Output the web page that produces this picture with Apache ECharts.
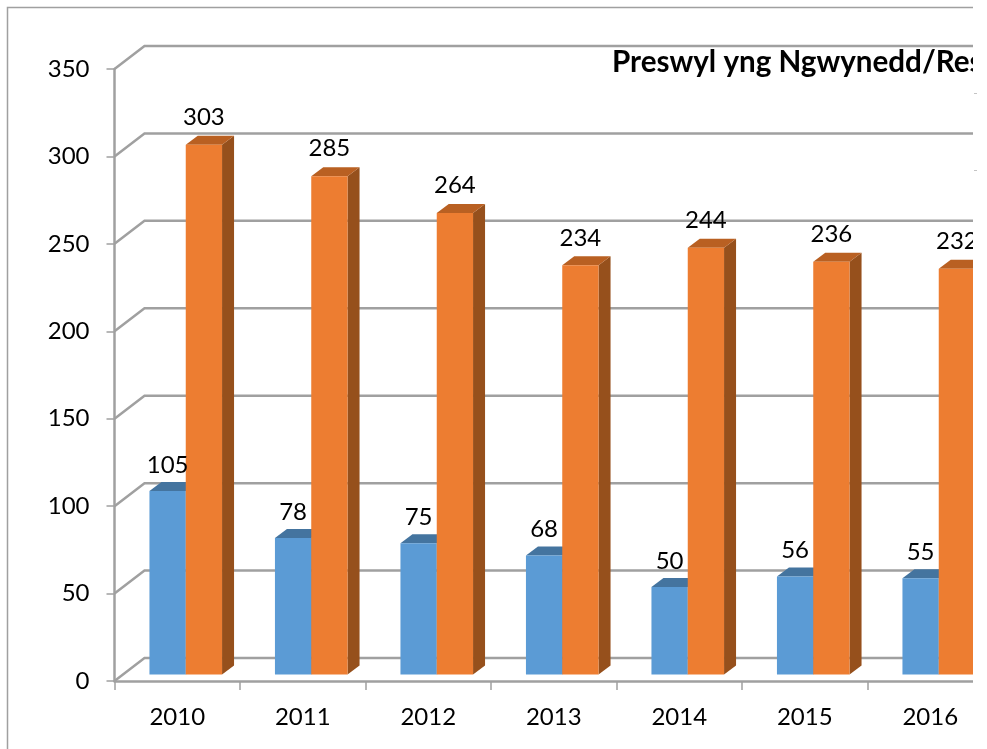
<!DOCTYPE html>
<html>
<head>
<meta charset="utf-8">
<title>Preswyl yng Ngwynedd</title>
<script src="https://cdn.jsdelivr.net/npm/echarts@6/dist/echarts.min.js"></script>
<style>
  html, body { margin: 0; padding: 0; background: #fff; overflow: hidden; }
  #chart { position: absolute; left: 0; top: 0; width: 973px; height: 749px; }
  .mark { position: absolute; left: 974px; width: 3px; height: 1px; background: #c4c4c4; }
</style>
</head>
<body>
<div id="chart"></div>
<div class="mark" style="top:93px"></div>
<div class="mark" style="top:170px"></div>
<script>
  var titleText = 'Preswyl yng Ngwynedd/Res';
  var years = ['2010', '2011', '2012', '2013', '2014', '2015', '2016'];
  var blueValues = [105, 78, 75, 68, 50, 56, 55];
  var orangeValues = [303, 285, 264, 234, 244, 236, 232];
  var yTicks = [0, 50, 100, 150, 200, 250, 300, 350];

  var fontName = 'Lato';
  var lineColor = '#a0a0a0';
  var depthX = 30, depthY = 23;      // back wall offset
  var barW = 36.3, barDX = 12, barDY = 9; // bar width and its own depth
  var floorY = 6.5, shiftX = 8.5;    // bars stand a bit behind the front axis

  var myChart = echarts.init(document.getElementById('chart'), null, {renderer: 'canvas'});

  // back wall gridline, with the diagonal going back from the front axis
  function renderWall(params, api) {
    var sys = params.coordSys;
    var p = api.coord([0, api.value(1)]);
    return {
      type: 'polyline',
      shape: {points: [[sys.x, p[1]], [sys.x + depthX, p[1] - depthY], [sys.x + sys.width, p[1] - depthY]]},
      style: {fill: null, stroke: lineColor, lineWidth: 2.5}
    };
  }

  function makeBarRender(offset, labelGap, front, top, side) {
    return function (params, api) {
      var v = api.value(1);
      var p = api.coord([api.value(0), v]);
      var zero = api.coord([api.value(0), 0]);
      var x = p[0] + shiftX + offset * barW;
      var base = zero[1] - floorY;
      var y = p[1] - floorY;
      return {
        type: 'group',
        children: [
          {type: 'polygon', shape: {points: [[x + barW, y], [x + barW + barDX, y - barDY], [x + barW + barDX, base - barDY], [x + barW, base]]}, style: {fill: side}},
          {type: 'polygon', shape: {points: [[x, y], [x + barDX, y - barDY], [x + barW + barDX, y - barDY], [x + barW, y]]}, style: {fill: top}},
          {type: 'rect', shape: {x: x, y: y, width: barW, height: base - y}, style: {fill: front}},
          {type: 'text', z2: 10, style: {text: String(v), x: x + barW / 2, y: y - labelGap, align: 'center', verticalAlign: 'middle', fontFamily: fontName, fontSize: 24, fill: '#000'}}
        ]
      };
    };
  }

  function toPairs(values) {
    return values.map(function (v, i) { return [i, v]; });
  }

  var option = {
    animation: false,
    backgroundColor: '#fff',
    title: {
      text: titleText,
      left: 612,
      top: 47,
      padding: 0,
      textStyle: {fontFamily: fontName, fontSize: 29.6, fontWeight: 'bold', color: '#000'}
    },
    grid: {left: 114.5, width: 878.5, top: 69, height: 612, outerBoundsMode: 'none'},
    xAxis: [{
      type: 'category',
      data: years,
      axisLine: {lineStyle: {color: lineColor, width: 2.5}},
      axisTick: {show: true, length: 9, lineStyle: {color: lineColor, width: 1.5}},
      axisLabel: {margin: 24, fontFamily: fontName, fontSize: 24, color: '#000'},
      splitLine: {show: false}
    }],
    yAxis: [{
      type: 'value',
      min: 0,
      max: 350,
      interval: 50,
      axisLine: {show: true, lineStyle: {color: lineColor, width: 2.5}},
      axisTick: {show: true, length: 8, lineStyle: {color: lineColor, width: 1.5}},
      axisLabel: {margin: 25, fontFamily: fontName, fontSize: 24, color: '#000'},
      splitLine: {show: false}
    }],
    series: [
      {type: 'custom', renderItem: renderWall, data: yTicks.map(function (v) { return [0, v]; }), encode: {x: 0, y: 1}, silent: true},
      {type: 'custom', renderItem: makeBarRender(-1, 26, '#5b9bd5', '#44749f', '#3e6f9a'), data: toPairs(blueValues), encode: {x: 0, y: 1}},
      {type: 'custom', renderItem: makeBarRender(0, 27.5, '#ed7d31', '#b96022', '#96501c'), data: toPairs(orangeValues), encode: {x: 0, y: 1}}
    ],
    graphic: [{
      type: 'polyline',
      shape: {points: [[7.5, 749], [7.5, 7.5], [973, 7.5]]},
      style: {fill: null, stroke: lineColor, lineWidth: 1.5},
      silent: true
    }]
  };
  myChart.setOption(option, true);
</script>
</body>
</html>
